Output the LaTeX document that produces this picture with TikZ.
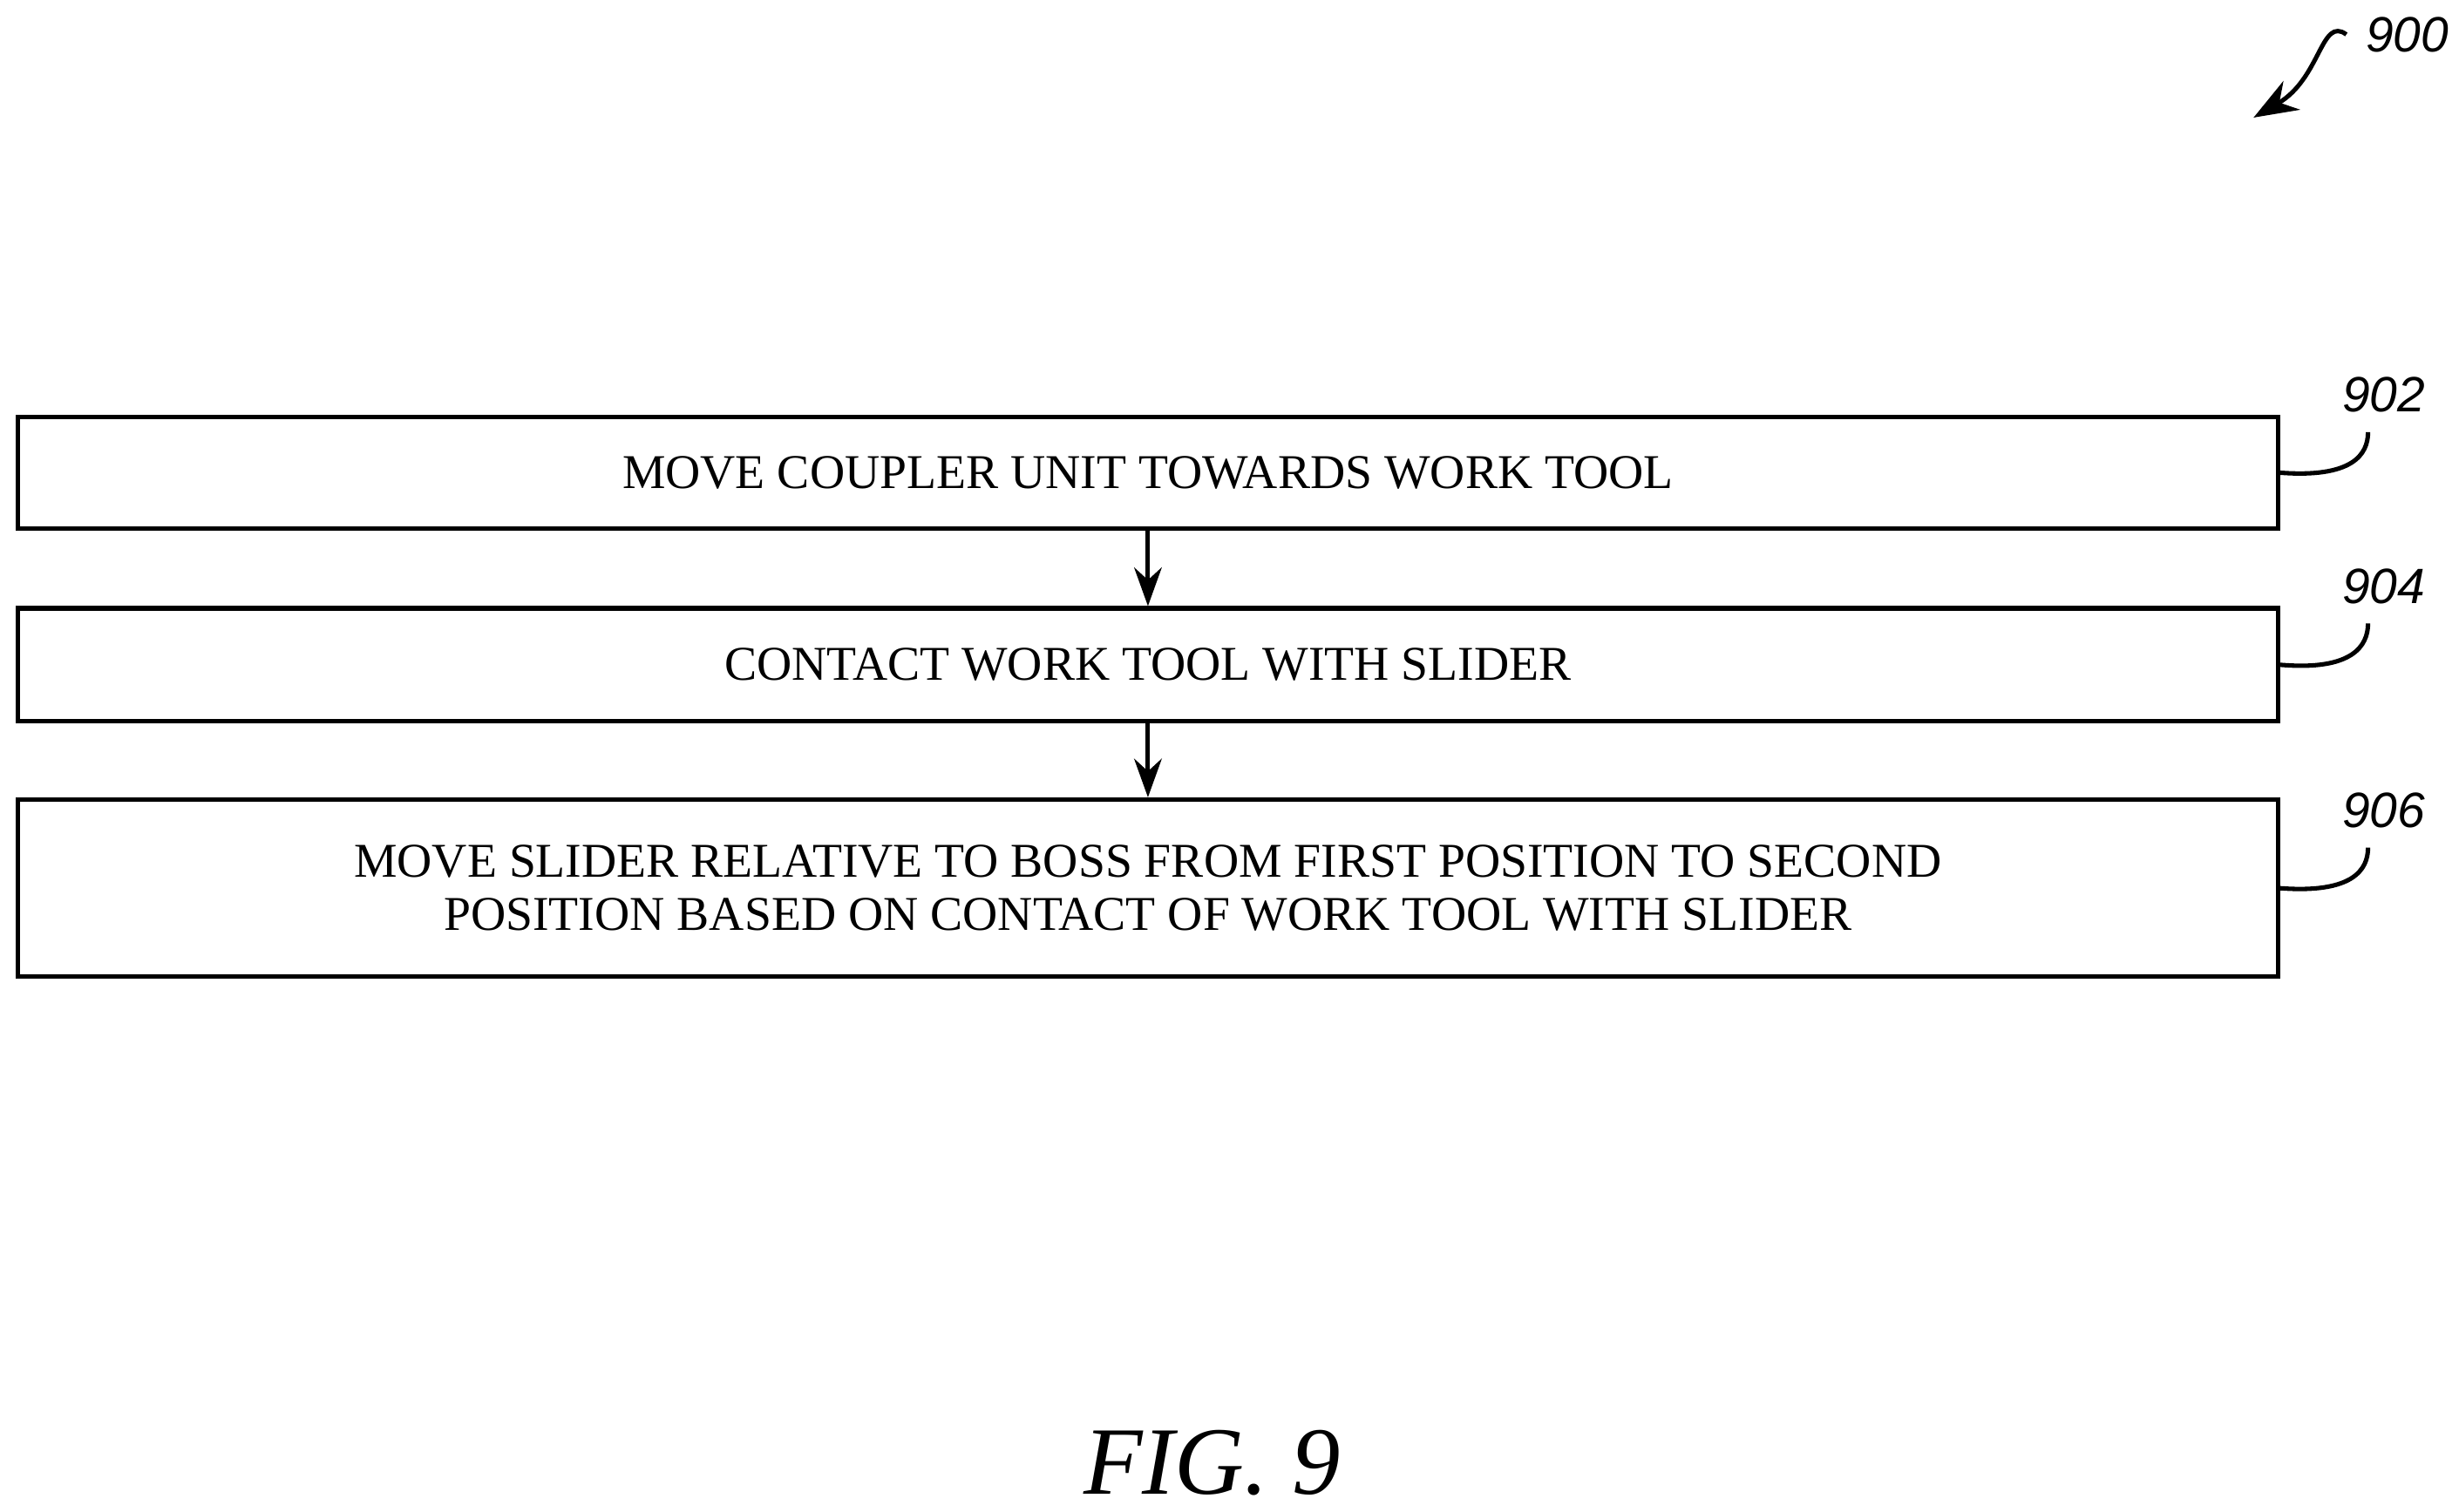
\documentclass[tikz,border=0pt]{standalone}
\usepackage{fontspec}
\setmainfont{Liberation Serif}
\newfontfamily\reffont{Liberation Sans}
\usetikzlibrary{positioning,arrows.meta}
\begin{document}
\begin{tikzpicture}
        [x=0.01cm, y=-0.01cm,
        stepbox/.style={draw, thick, minimum width=14.4cm, align=center, font=\fontsize{8.8}{9.6}\selectfont},
        flow/.style={thick, -{Stealth[length=7pt,width=5pt]}},
        lead/.style={thick},
        refnum/.style={font=\reffont\itshape\fontsize{9}{11}\selectfont}]

        \useasboundingbox (0,0) rectangle (1568,964);

        \node[stepbox, minimum height=0.71cm] (s902) at (732,301.5) {MOVE COUPLER UNIT TOWARDS WORK TOOL};
        \node[stepbox, minimum height=0.72cm] (s904) at (732,424) {CONTACT WORK TOOL WITH SLIDER};
        \node[stepbox, minimum height=1.13cm] (s906) at (732,566.5) {MOVE SLIDER RELATIVE TO BOSS FROM FIRST POSITION TO SECOND\\POSITION BASED ON CONTACT OF WORK TOOL WITH SLIDER};

        % flow arrows
        \draw[flow] (s902) -- (s904);
        \draw[flow] (s904) -- (s906);

        % reference numerals
        \node[refnum] (n902) at (1520,252) {902};
        \node[refnum] (n904) at (1520,374) {904};
        \node[refnum] (n906) at (1520,517) {906};
        \node[refnum] (n900) at (1535,22) {900};
        \draw[lead] (s902.east) .. controls (1500,305) and (1510,290) .. ([xshift=-0.1cm]n902.south);
        \draw[lead] (s904.east) .. controls (1500,428) and (1510,412) .. ([xshift=-0.1cm]n904.south);
        \draw[lead] (s906.east) .. controls (1500,570) and (1510,555) .. ([xshift=-0.1cm]n906.south);
        \coordinate (tip900) at (1437,75);
        \draw[lead, -{Stealth[length=8pt,width=6pt]}] (n900.west) .. controls (1480,10) and (1480,50) .. (tip900);

        \node[font=\itshape\fontsize{17.5}{20}\selectfont] (fig) at (773,933) {FIG. 9};

        \end{tikzpicture}
\end{document}
